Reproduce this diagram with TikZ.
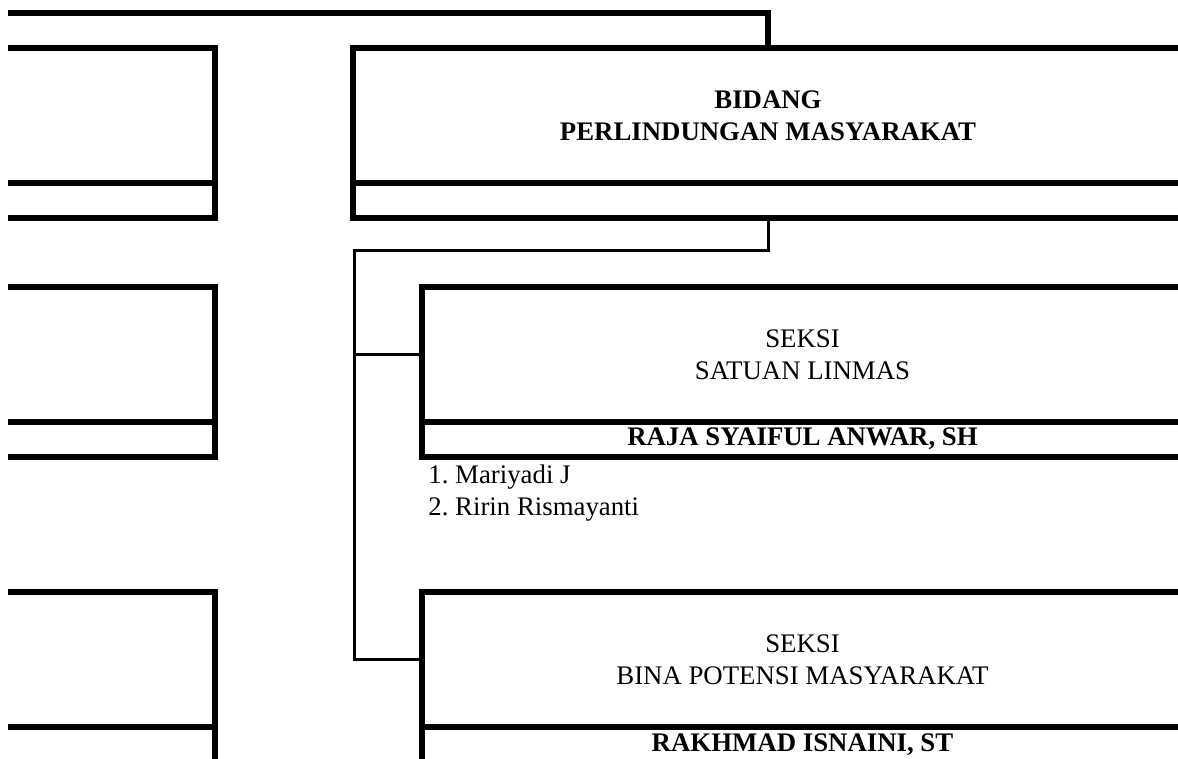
\documentclass[tikz,border=0pt]{standalone}
\usepackage{fontspec}
\setmainfont{Liberation Serif}
\frenchspacing

\begin{document}
\begin{tikzpicture}[x=0.5pt, y=-0.5pt,
	head/.style={draw, line width=3pt, inner sep=0pt, outer sep=0pt, minimum height=67.5pt, align=center, font=\fontsize{13.4}{16}\selectfont},
	namebar/.style={draw, line width=3pt, inner sep=0pt, outer sep=0pt, minimum height=17.5pt, font=\fontsize{13.4}{16}\selectfont\bfseries},
	staff/.style={anchor=base west, inner sep=0pt, font=\fontsize{13.4}{16}\selectfont},
	link/.style={line width=1.5pt},
	mainlink/.style={line width=3pt}]
	\useasboundingbox (0,0) rectangle (1178,759);
	\clip (8,0) rectangle (1178,759);
	% boxes cut off on the left
	\node[head, minimum width=117.5pt] (left_a_head) at (97.5,115.5) {};
	\node[namebar, minimum width=117.5pt] (left_a_name) at (97.5,200.5) {};
	\node[head, minimum width=117.5pt] (left_b_head) at (97.5,354.5) {};
	\node[namebar, minimum width=117.5pt] (left_b_name) at (97.5,439) {};
	\node[head, minimum width=117.5pt] (left_c_head) at (97.5,659.5) {};
	\node[namebar, minimum width=117.5pt] (left_c_name) at (97.5,744.5) {};
	% bidang
	\node[head, minimum width=415pt, font=\fontsize{13.4}{16}\selectfont\bfseries] (bidang_head) at (768,115.5) {BIDANG\\PERLINDUNGAN MASYARAKAT};
	\node[namebar, minimum width=415pt] (bidang_name) at (768,200.5) {};
	% seksi
	\node[head, minimum width=380.5pt] (linmas_head) at (802.5,354.5) {SEKSI\\SATUAN LINMAS};
	\node[namebar, minimum width=380.5pt] (linmas_name) at (802.5,439) {RAJA SYAIFUL ANWAR, SH};
	\node[staff] (staff_a) at (428,483) {1. Mariyadi J};
	\node[staff] (staff_b) at (428,515) {2. Ririn Rismayanti};
	\node[head, minimum width=380.5pt] (potensi_head) at (802.5,659.5) {SEKSI\\BINA POTENSI MASYARAKAT};
	\node[namebar, minimum width=380.5pt] (potensi_name) at (802.5,744.5) {RAKHMAD ISNAINI, ST};
	% lines
	\coordinate (top_left) at (0,13);
	\coordinate (trunk) at (354,251);
	\draw[mainlink] (top_left) -| (bidang_head.north);
	\draw[link] (bidang_name.south) |- (trunk) |- (linmas_head.west);
	\draw[link] (trunk) |- (potensi_head.west);
\end{tikzpicture}
\end{document}
